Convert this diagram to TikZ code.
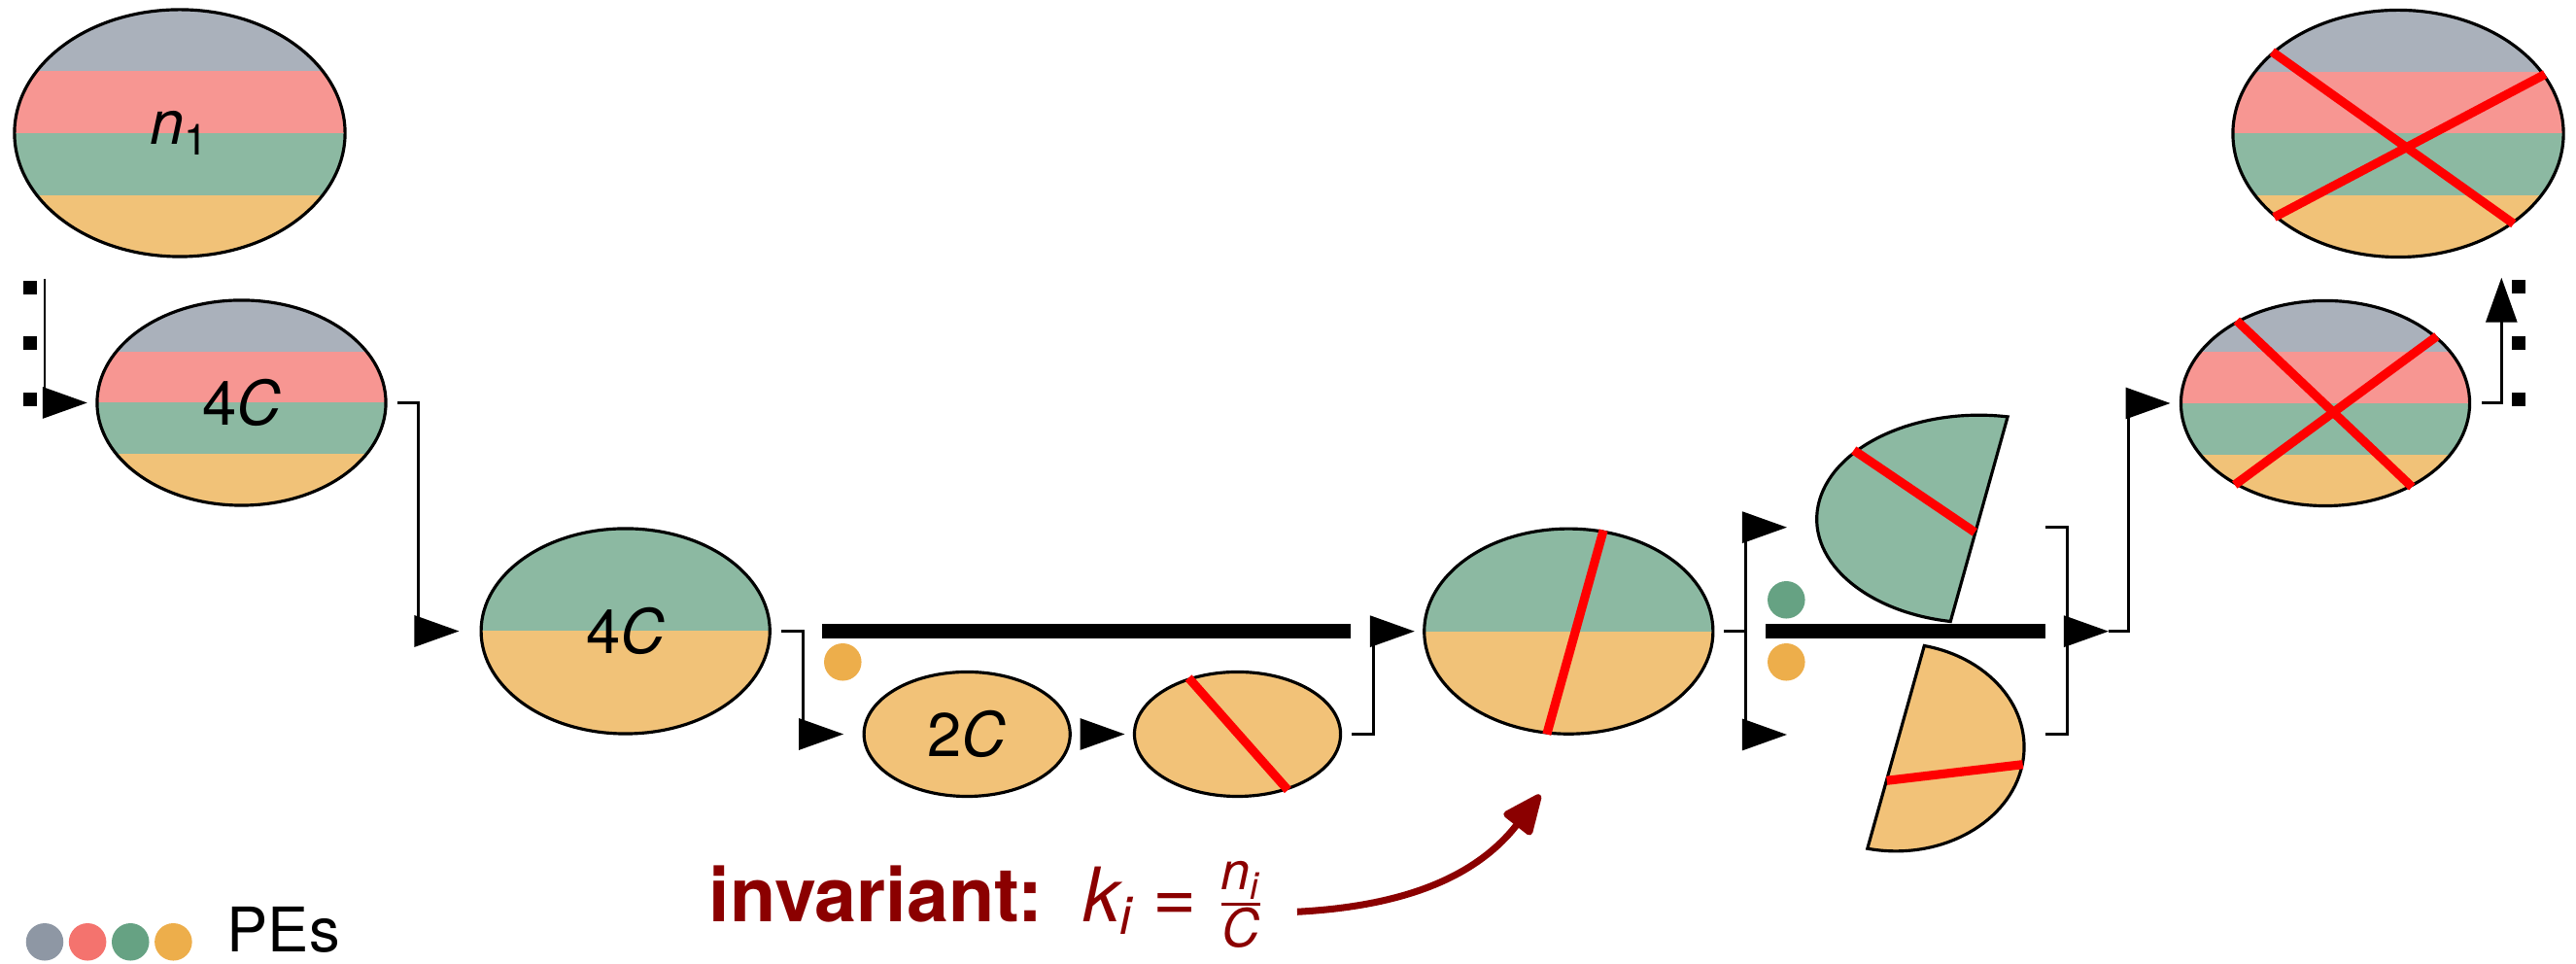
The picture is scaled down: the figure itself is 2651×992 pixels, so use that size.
\documentclass[tikz,border=0pt]{standalone}
\usepackage{amsmath}
\usepackage{fontspec}
\setmainfont{TeX Gyre Heros}
\usepackage{tikz}
\usetikzlibrary{positioning,arrows.meta,shapes,calc}
\definecolor{PeGray}{RGB}{142,151,164}
\definecolor{PeRed}{RGB}{244,115,110}
\definecolor{PeGreen}{RGB}{102,162,131}
\definecolor{PeOrange}{RGB}{237,174,75}
\definecolor{CutRed}{RGB}{255,0,0}
\definecolor{InvRed}{RGB}{139,0,0}
\newcommand{\peband}[3]{\fill[#1] ($(path picture bounding box.north west)!#2!(path picture bounding box.south west)$) rectangle ($(path picture bounding box.north east)!#3!(path picture bounding box.south east)$);}

\begin{document}
\begin{tikzpicture}[
    x=0.01cm, y=0.01cm,
    blob/.style={ellipse, draw=black, line width=0.9pt, inner sep=0pt, font=\fontsize{18}{21}\selectfont},
    big/.style={blob, minimum width=3.40cm, minimum height=2.54cm},
    mid/.style={blob, minimum width=2.97cm, minimum height=2.11cm},
    small/.style={blob, minimum width=2.12cm, minimum height=1.28cm, fill=PeOrange!75},
    pes4/.style={path picture={\peband{PeGray!75}{0}{.25}\peband{PeRed!75}{.25}{.5}\peband{PeGreen!75}{.5}{.75}\peband{PeOrange!75}{.75}{1}}},
    pes2/.style={path picture={\peband{PeGreen!75}{0}{.5}\peband{PeOrange!75}{.5}{1}}},
    cut/.style={draw=CutRed, line width=2.6pt},
    conn/.style={draw, line width=0.85pt, -{Triangle[length=0.46cm, width=0.32cm]}},
    wire/.style={draw, line width=0.85pt},
    bar/.style={rectangle, fill=black, minimum height=0.15cm, inner sep=0pt},
    dot/.style={circle, inner sep=0pt, minimum size=0.385cm},
    tick/.style={rectangle, fill=black, inner sep=0pt, minimum size=0.14cm},
    invArrow/.style={draw=InvRed, line width=2pt, -{Triangle[length=0.46cm, width=0.38cm, round]}},
]
\useasboundingbox (0,0) rectangle (2651,992);

% collections
\node[big, pes4] (eN1) at (185,855) {\textit{n}\textsubscript{1}};
\node[mid, pes4] (eL4C) at (248.5,577.5) {4\textit{C}};
\node[mid, pes2] (eM4C) at (643.7,342.5) {4\textit{C}};
\node[small] (e2C) at (995.2,236.5) {2\textit{C}};
\node[small, right=0.63cm of e2C] (eCut) {};
\node[mid, pes2] (eSplit) at (1614.3,342.3) {};
\node[mid, pes4] (eR4C) at (2393,577) {};
\node[big, pes4] (eTop) at (2468,854.5) {};

% split halves
\begin{scope}[shift={(2036.7,457.8)}]
  \filldraw[fill=PeGreen!75, line width=0.9pt] (29.4,105.3) arc[start angle=79.85, end angle=259.85, x radius=167, y radius=107] -- cycle;
\end{scope}
\begin{scope}[shift={(1951,223.1)}]
  \filldraw[fill=PeOrange!75, line width=0.9pt] (-29.2,-104.3) arc[start angle=-102.8, end angle=77.2, x radius=132, y radius=107] -- cycle;
\end{scope}

% cuts
\draw[cut] (eCut.131) -- (eCut.-48);
\draw[cut] (eSplit.71) -- (eSplit.-102);
\draw[cut] (1907.7,528.7) -- (2032.3,444.3);
\draw[cut] (1941.7,188.7) -- (2081.7,205.3);
\draw[cut] (eR4C.137) -- (eR4C.-44);
\draw[cut] (eR4C.31) -- (eR4C.222);
\draw[cut] (eTop.147) -- (eTop.-38);
\draw[cut] (eTop.22) -- (eTop.214);

% bars and PE dots
\node[bar, minimum width=5.44cm] (barL) at (1118,342.5) {};
\node[bar, minimum width=2.88cm] (barR) at (1961,342.3) {};
\node[dot, fill=PeOrange] (dO1) at (867.3,310.7) {};
\node[dot, fill=PeGreen] (dG2) at (1838.3,374.7) {};
\node[dot, fill=PeOrange] (dO2) at (1838.3,310.7) {};

% continuation marks
\node[tick] (sqL1) at (31,696) {};
\node[tick] (sqL2) at (31,639) {};
\node[tick] (sqL3) at (31,581) {};
\node[tick] (sqR1) at (2592,697.3) {};
\node[tick] (sqR2) at (2592,639.3) {};
\node[tick] (sqR3) at (2592,581.3) {};

\coordinate (lIn) at (46,705);
\coordinate (rOut) at (2574.3,706.3);
\coordinate (fork) at (1796,342.3);
\coordinate (forkT) at (1796,449.3);
\coordinate (forkB) at (1796,236);
\coordinate (inG) at (1839,449.3);
\coordinate (inO) at (1839,236);
\coordinate (outG) at (2105,449.3);
\coordinate (outO) at (2105,236);
\coordinate (join) at (2127,342.3);
\coordinate (merge) at (2170,342.3);
\coordinate (invTip) at (1585,174);

% flow
\draw[conn] (lIn) |- ([xshift=-0.085cm]eL4C.west);
\draw[conn] ([xshift=0.105cm]eL4C.east) -- ++(21,0) |- ([xshift=-0.21cm]eM4C.west);
\draw[conn] ([xshift=0.106cm]eM4C.east) -- ++(22,0) |- ([xshift=-0.194cm]e2C.west);
\draw[conn] ([xshift=0.116cm]e2C.east) -- ([xshift=-0.083cm]eCut.west);
\draw[conn] ([xshift=0.1cm]eCut.east) -- ++(22,0) |- ([xshift=-0.083cm]eSplit.west);
\draw[wire] ([xshift=0.1cm]eSplit.east) -- (fork);
\draw[wire] (forkT) -- (forkB);
\draw[conn] (forkT) -- (inG);
\draw[conn] (forkB) -- (inO);
\draw[wire] (outG) -| (join) |- (outO);
\draw[conn] (join) -- (merge);
\draw[conn] (merge) -- ++(20.7,0) |- ([xshift=-0.093cm]eR4C.west);
\draw[conn] ([xshift=0.11cm]eR4C.east) -| (rOut);

% invariant
\node[anchor=base west, text=InvRed, inner sep=0pt, font=\fontsize{22}{26}\selectfont] (inv) at (729,43.7)
  {\textbf{invariant:}~\hspace{0.25em}$\textit{k}_{\textit{i}} \mathrel{\text{=}} \frac{\textit{n}_{\textit{i}}}{\textit{C}}$};
\draw[invArrow] ([xshift=0.33cm, yshift=0.1cm]inv.base east) to[out=3, in=-128] (invTip);

% legend
\node[dot, fill=PeGray] (lgGray) at (46,22.7) {};
\node[dot, fill=PeRed, right=0.042cm of lgGray] (lgRed) {};
\node[dot, fill=PeGreen, right=0.042cm of lgRed] (lgGreen) {};
\node[dot, fill=PeOrange, right=0.042cm of lgGreen] (lgOrange) {};
\node[anchor=base west, inner sep=0pt, font=\fontsize{18}{21}\selectfont] (lgText) at (233,12) {PEs};
\end{tikzpicture}
\end{document}
